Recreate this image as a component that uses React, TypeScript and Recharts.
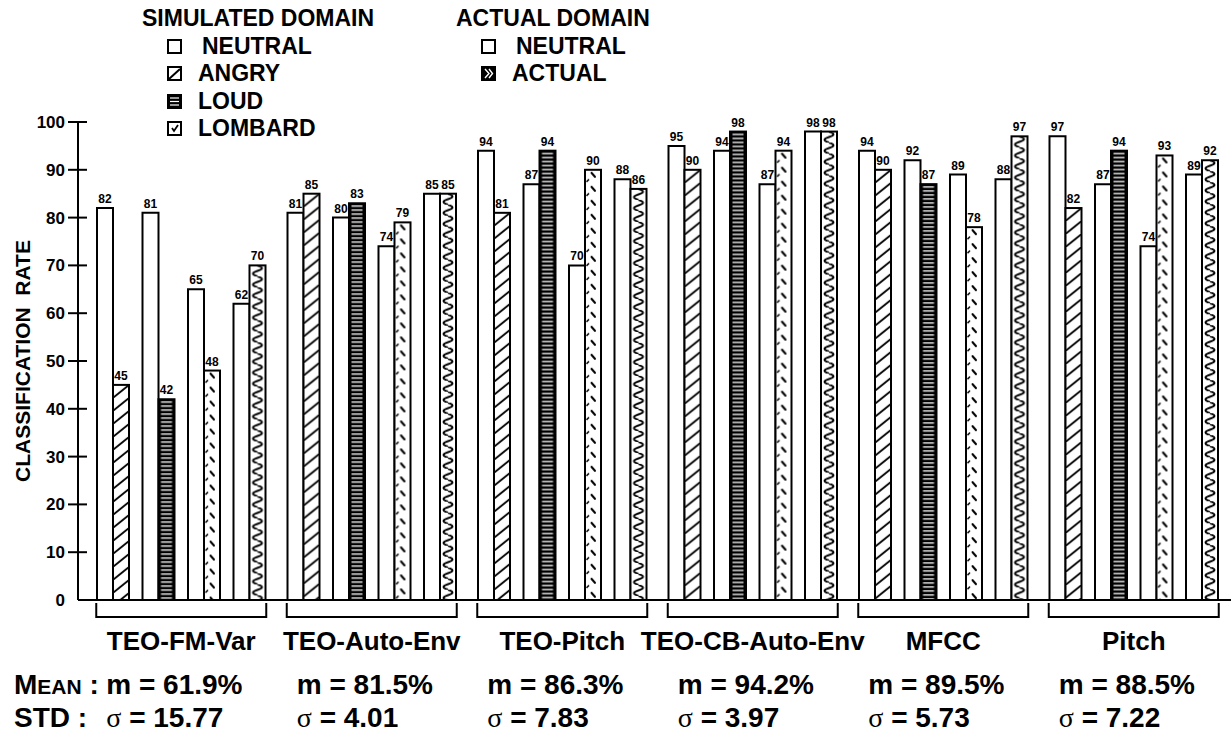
import React from "react";
import { BarChart, Bar, XAxis, YAxis, LabelList, Label } from "recharts";

const FONT = "'Liberation Sans', Arial, Helvetica, sans-serif";
const SERIF = "'Liberation Serif', 'Times New Roman', serif";

// feature sets along the x axis
const groups = [
  "TEO-FM-Var",
  "TEO-Auto-Env",
  "TEO-Pitch",
  "TEO-CB-Auto-Env",
  "MFCC",
  "Pitch",
];

// classification rate (%) per feature set, each stress class next to its neutral baseline
const neutralAngry = [82, 81, 94, 95, 94, 97];
const angry = [45, 85, 81, 90, 90, 82];
const neutralLoud = [81, 80, 87, 94, 92, 87];
const loud = [42, 83, 94, 98, 87, 94];
const neutralLombard = [65, 74, 70, 87, 89, 74];
const lombard = [48, 79, 90, 94, 78, 93];
const actualNeutral = [62, 85, 88, 98, 88, 89];
const actual = [70, 85, 86, 98, 97, 92];

// summary rows printed under each group
const meanRates = ["61.9", "81.5", "86.3", "94.2", "89.5", "88.5"];
const stdDevs = ["15.77", "4.01", "7.83", "3.97", "5.73", "7.22"];

const yTicks = [0, 10, 20, 30, 40, 50, 60, 70, 80, 90, 100];

const data = groups.map((group, i) => ({
  group,
  neutralAngry: neutralAngry[i],
  angry: angry[i],
  neutralLoud: neutralLoud[i],
  loud: loud[i],
  neutralLombard: neutralLombard[i],
  lombard: lombard[i],
  actualNeutral: actualNeutral[i],
  actual: actual[i],
}));

type Kind = "angry" | "loud" | "lombard" | "actual";

// fill patterns, anchored at the bar's own left edge
function patternDef(kind: Kind, id: string, x: number, y: number, w: number) {
  switch (kind) {
    case "angry":
      return (
        <pattern id={id} patternUnits="userSpaceOnUse" x={x} y={y} width={w} height={13}>
          <rect width={w} height={13} fill="#fff" />
          <path d={`M-2,14.6 L${w + 2},-1.6`} stroke="#000" strokeWidth={1.8} />
        </pattern>
      );
    case "loud":
      return (
        <pattern id={id} patternUnits="userSpaceOnUse" x={x} y={y} width={w} height={4}>
          <rect width={w} height={4} fill="#000" />
          <rect x={2.5} y={2.2} width={w - 5} height={1.3} fill="#fff" />
        </pattern>
      );
    case "lombard":
      return (
        <pattern id={id} patternUnits="userSpaceOnUse" x={x} y={y} width={w} height={14}>
          <rect width={w} height={14} fill="#fff" />
          <path d="M6.5,3 L10,7" stroke="#000" strokeWidth={2} strokeLinecap="round" />
          <path d="M1.5,12 L4,9.5" stroke="#000" strokeWidth={1.6} />
        </pattern>
      );
    case "actual":
      return (
        <pattern id={id} patternUnits="userSpaceOnUse" x={x} y={y} width={w} height={11}>
          <rect width={w} height={11} fill="#fff" />
          <path
            d={`M${w / 2},0 C${w - 2},2 ${w - 2},3.5 ${w / 2},5.5 C2,7.5 2,9 ${w / 2},11`}
            fill="none"
            stroke="#000"
            strokeWidth={2}
          />
        </pattern>
      );
  }
}

const patternShape = (kind: Kind) => (props: any) => {
  const { x, y, width, height, index } = props;
  if (!height) return <g />;
  const id = `${kind}-${index}`;
  return (
    <g>
      <defs>{patternDef(kind, id, x, y, width)}</defs>
      <rect
        x={x}
        y={y}
        width={width}
        height={height}
        fill={`url(#${id})`}
        stroke="#000"
        strokeWidth={2}
      />
    </g>
  );
};

const labelStyle = {
  fill: "#000",
  fontSize: 12,
  fontWeight: "bold",
  fontFamily: "'Liberation Sans Narrow', " + FONT,
};

const RateTick = (props: any) => {
  const { x, y, payload } = props;
  return (
    <g>
      {payload.value !== 0 && (
        <line x1={x - 10} x2={x + 9} y1={y} y2={y} stroke="#000" strokeWidth={2} />
      )}
      <text
        x={x - 13}
        y={y}
        dy={6}
        textAnchor="end"
        fontSize={17}
        fontWeight="bold"
        fontFamily={FONT}
        fill="#000"
      >
        {payload.value}
      </text>
    </g>
  );
};

const GroupTick = (props: any) => {
  const { x, y, payload } = props;
  const i = payload.index;
  const half = 85;
  return (
    <g fontFamily={FONT} fontWeight="bold" fill="#000">
      <path
        d={`M${x - half},${y + 3} V${y + 17} H${x + half} V${y + 3}`}
        fill="none"
        stroke="#000"
        strokeWidth={2}
      />
      <text x={x} y={y + 50} textAnchor="middle" fontSize={26}>
        {groups[i]}
      </text>
      <text x={x - 75} y={y + 94} fontSize={28}>
        m = {meanRates[i]}%
      </text>
      <text x={x - 75} y={y + 127} fontSize={28}>
        <tspan fontFamily={SERIF} fontWeight="normal">
          σ
        </tspan>{" "}
        = {stdDevs[i]}
      </text>
    </g>
  );
};

const YTitle = (props: any) => {
  const vb = props.viewBox || { x: 0, y: 122, width: 78, height: 478 };
  const cx = 22;
  const cy = vb.y + vb.height / 2;
  return (
    <text
      x={cx}
      y={cy}
      transform={`rotate(-90 ${cx} ${cy})`}
      textAnchor="middle"
      dominantBaseline="central"
      fontSize={21}
      fontWeight="bold"
      fontFamily={FONT}
      fill="#000"
      style={{ whiteSpace: "pre" }}
    >
      {"CLASSIFICATION  RATE"}
    </text>
  );
};

// small legend glyphs
function Swatch({ kind, x, y }: { kind: "neutral" | Kind; x: number; y: number }) {
  const s = 13;
  const box = <rect x={x} y={y} width={s} height={s} fill="none" stroke="#000" strokeWidth={2} />;
  switch (kind) {
    case "angry":
      return (
        <g>
          {box}
          <path d={`M${x + 1},${y + s - 1} L${x + s - 1},${y + 2}`} stroke="#000" strokeWidth={2} />
        </g>
      );
    case "loud":
      return (
        <g>
          <rect x={x} y={y} width={s} height={s} fill="#000" stroke="#000" strokeWidth={2} />
          {[3, 6.5, 10].map((d) => (
            <line key={d} x1={x + 2} x2={x + s - 2} y1={y + d} y2={y + d} stroke="#fff" strokeWidth={1.2} />
          ))}
        </g>
      );
    case "lombard":
      return (
        <g>
          {box}
          <path d={`M${x + 4},${y + 6} L${x + 6},${y + 9} L${x + 10},${y + 3}`} fill="none" stroke="#000" strokeWidth={1.8} />
        </g>
      );
    case "actual":
      return (
        <g>
          <rect x={x} y={y} width={s} height={s} fill="#000" stroke="#000" strokeWidth={2} />
          <path
            d={`M${x + 3},${y + 2} L${x + 7},${y + 6.5} L${x + 3},${y + 11} M${x + 7},${y + 2} L${x + 10.5},${y + 6.5} L${x + 7},${y + 11}`}
            fill="none"
            stroke="#fff"
            strokeWidth={1.4}
          />
        </g>
      );
    default:
      return box;
  }
}

const simulatedItems: { kind: "neutral" | Kind; name: string }[] = [
  { kind: "neutral", name: "NEUTRAL" },
  { kind: "angry", name: "ANGRY" },
  { kind: "loud", name: "LOUD" },
  { kind: "lombard", name: "LOMBARD" },
];
const actualItems: { kind: "neutral" | Kind; name: string }[] = [
  { kind: "neutral", name: "NEUTRAL" },
  { kind: "actual", name: "ACTUAL" },
];

function DomainLegend() {
  const rowY = [46, 73, 101, 128];
  const column = (title: string, left: number, items: typeof simulatedItems) => (
    <g>
      <text x={left} y={26} fontSize={23}>
        {title}
      </text>
      {items.map((it, k) => (
        <g key={it.name}>
          <Swatch kind={it.kind} x={left + 26} y={rowY[k] - 6} />
          <text x={left + (k === 0 ? 60 : 56)} y={rowY[k] + 8} fontSize={23}>
            {it.name}
          </text>
        </g>
      ))}
    </g>
  );
  return (
    <svg
      width={760}
      height={145}
      style={{ position: "absolute", left: 0, top: 0 }}
      fontFamily={FONT}
      fontWeight="bold"
      fill="#000"
    >
      {column("SIMULATED DOMAIN", 142, simulatedItems)}
      {column("ACTUAL DOMAIN", 456, actualItems)}
    </svg>
  );
}

function SummaryCaptions() {
  return (
    <svg
      width={120}
      height={733}
      style={{ position: "absolute", left: 0, top: 0 }}
      fontFamily={FONT}
      fontWeight="bold"
      fill="#000"
    >
      <text x={14} y={694} fontSize={28}>
        M<tspan fontSize={21}>EAN</tspan> :
      </text>
      <text x={14} y={727} fontSize={28}>
        STD :
      </text>
    </svg>
  );
}

const pairs: { base: string; key: string; kind: Kind }[] = [
  { base: "neutralAngry", key: "angry", kind: "angry" },
  { base: "neutralLoud", key: "loud", kind: "loud" },
  { base: "neutralLombard", key: "lombard", kind: "lombard" },
  { base: "actualNeutral", key: "actual", kind: "actual" },
];

export default function App() {
  const series: React.ReactNode[] = [];
  pairs.forEach((p, k) => {
    series.push(
      <Bar
        key={p.base}
        dataKey={p.base}
        barSize={16}
        fill="#fff"
        stroke="#000"
        strokeWidth={2}
        isAnimationActive={false}
      >
        <LabelList dataKey={p.base} position="top" offset={5} style={labelStyle} />
      </Bar>
    );
    series.push(
      <Bar
        key={p.key}
        dataKey={p.key}
        barSize={16}
        shape={patternShape(p.kind)}
        isAnimationActive={false}
      >
        <LabelList dataKey={p.key} position="top" offset={5} style={labelStyle} />
      </Bar>
    );
    if (k < pairs.length - 1) {
      // empty slot that separates the pairs inside a group
      series.push(
        <Bar
          key={`gap${k}`}
          dataKey={`gap${k}`}
          barSize={13.5}
          fill="none"
          isAnimationActive={false}
        />
      );
    }
  });

  return (
    <div
      style={{
        position: "absolute",
        left: 0,
        top: 0,
        width: 1231,
        height: 733,
        background: "#fff",
        fontFamily: FONT,
      }}
    >
      <BarChart
        width={1231}
        height={733}
        data={data}
        margin={{ top: 122, right: 0, bottom: 0, left: 0 }}
        barGap={0}
        barCategoryGap={0}
      >
        <XAxis
          dataKey="group"
          height={133}
          axisLine={{ stroke: "#000", strokeWidth: 2 }}
          tickLine={false}
          tickSize={0}
          tickMargin={0}
          padding={{ left: 8, right: 2 }}
          tick={<GroupTick />}
          interval={0}
        />
        <YAxis
          width={78}
          domain={[0, 100]}
          ticks={yTicks}
          interval={0}
          axisLine={{ stroke: "#000", strokeWidth: 2 }}
          tickLine={false}
          tickSize={0}
          tickMargin={0}
          tick={<RateTick />}
        >
          <Label content={<YTitle />} />
        </YAxis>
        {series}
      </BarChart>
      <DomainLegend />
      <SummaryCaptions />
    </div>
  );
}
